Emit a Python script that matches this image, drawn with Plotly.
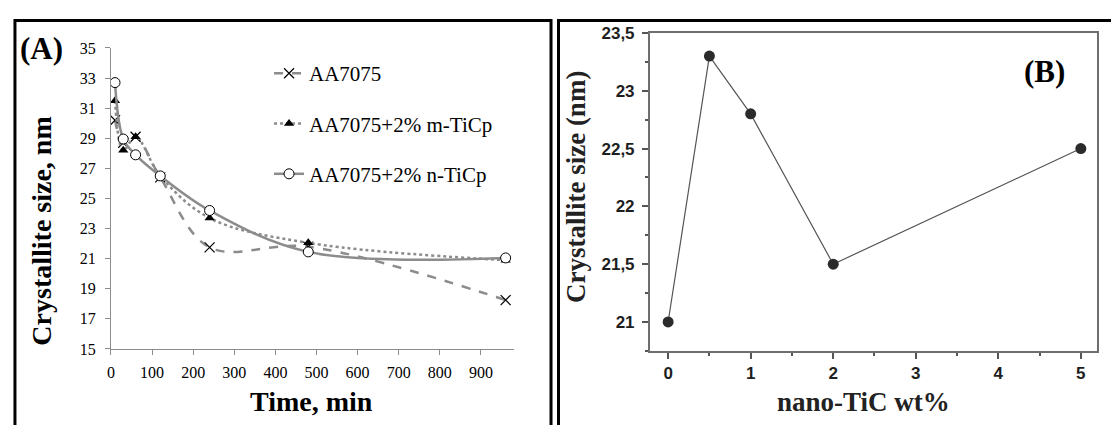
import plotly.graph_objects as go

# ---- Panel A data ----
time_min = [10, 30, 60, 120, 240, 480, 960]
aa7075 = [30.2, 28.7, 29.1, 26.4, 21.75, 21.8, 18.25]
aa_m_ticp = [31.5, 28.2, 29.1, 26.5, 23.7, 22.05, 20.9]
aa_n_ticp = [32.7, 28.95, 27.9, 26.5, 24.2, 21.45, 21.05]
series_names = ["AA7075", "AA7075+2% m-TiCp", "AA7075+2% n-TiCp"]
x_ticks_a = [0, 100, 200, 300, 400, 500, 600, 700, 800, 900]
y_ticks_a = [15, 17, 19, 21, 23, 25, 27, 29, 31, 33, 35]

# ---- Panel B data ----
tic_wt = [0, 0.5, 1, 2, 5]
cryst_b = [21.0, 23.3, 22.8, 21.5, 22.5]
y_ticks_b = [21, 21.5, 22, 22.5, 23, 23.5]
y_ticklabels_b = ["21", "21,5", "22", "22,5", "23", "23,5"]
x_ticks_b = [0, 1, 2, 3, 4, 5]

W, H = 1111, 425
def px(x):
    return x / W
def py(y):
    return 1 - y / H

SERIF = "Liberation Serif, Times New Roman, serif"
SANS = "Liberation Sans, Arial, sans-serif"
GRAY = "#8c8c8c"

fig = go.Figure()

styles = [
    dict(dash="dash", symbol="x-thin", msize=10, mcolor="black", mline=dict(color="black", width=1.2)),
    dict(dash="dot", symbol="triangle-up", msize=9, mcolor="black", mline=dict(color="black", width=0)),
    dict(dash="solid", symbol="circle", msize=10, mcolor="white", mline=dict(color="black", width=1)),
]
for i, (name, vals) in enumerate(zip(series_names, [aa7075, aa_m_ticp, aa_n_ticp])):
    s = styles[i]
    fig.add_trace(go.Scatter(
        x=time_min, y=vals, name=name, mode="lines+markers",
        line=dict(color=GRAY, width=2.5, dash=s["dash"], shape="spline", smoothing=1.0),
        marker=dict(symbol=s["symbol"], size=s["msize"], color=s["mcolor"], line=s["mline"]),
        xaxis="x", yaxis="y", legendgroup=f"g{i}",
    ))

fig.add_trace(go.Scatter(
    x=tic_wt, y=cryst_b, mode="lines+markers", showlegend=False,
    line=dict(color="#555555", width=1.2),
    marker=dict(symbol="circle", size=11, color="#2b2b2b"),
    xaxis="x2", yaxis="y2",
))

axis_a_common = dict(showgrid=False, zeroline=False, showline=True, linecolor=GRAY, linewidth=1,
                     ticks="outside", ticklen=5, tickcolor=GRAY,
                     tickfont=dict(family=SERIF, size=16, color="black"))
axis_b_common = dict(showgrid=False, zeroline=False, showline=True, mirror=True, linecolor="#6e6e6e",
                     linewidth=2, ticks="outside", ticklen=6, tickwidth=2, tickcolor="#555555",
                     tickfont=dict(family=SANS, size=17, color="#1e1e1e", weight="bold"))

title_a_font = dict(family=SERIF, size=28, color="black", weight="bold")
title_b_font = dict(family=SERIF, size=27, color="#222222", weight="bold")

fig.update_layout(
    width=W, height=H,
    margin=dict(l=0, r=0, t=0, b=0),
    paper_bgcolor="white", plot_bgcolor="white",
    showlegend=True,
    legend=dict(x=px(266), y=py(46), xanchor="left", yanchor="top",
                font=dict(family=SERIF, size=21, color="black"),
                tracegroupgap=20, bgcolor="rgba(0,0,0,0)", itemwidth=30),
    xaxis=dict(domain=[px(107.3), px(511.7)], range=[0, 980], anchor="y",
               tickvals=x_ticks_a, ticklabelstandoff=4, **axis_a_common),
    yaxis=dict(domain=[py(355), py(40.7)], range=[15, 35], anchor="x",
               tickvals=y_ticks_a, ticklabelstandoff=6, **axis_a_common),
    xaxis2=dict(domain=[px(648.3), px(1097.3)], range=[-0.22, 5.2], anchor="y2",
                tickvals=x_ticks_b, ticklabelstandoff=0, **axis_b_common,
                minor=dict(ticks="outside", ticklen=3, tickwidth=2, tickcolor="#555555", dtick=0.5, tick0=0)),
    yaxis2=dict(domain=[py(357), py(25)], range=[20.75, 23.5], anchor="x2",
                tickvals=y_ticks_b, ticktext=y_ticklabels_b, ticklabelstandoff=4, **axis_b_common,
                minor=dict(ticks="outside", ticklen=3, tickwidth=2, tickcolor="#555555", dtick=0.25, tick0=0)),
    shapes=[
        dict(type="rect", xref="paper", yref="paper", x0=px(11), x1=px(549), y0=-0.2, y1=py(12),
             line=dict(color="black", width=3)),
        dict(type="rect", xref="paper", yref="paper", x0=px(556.5), x1=1.2, y0=-0.2, y1=py(12),
             line=dict(color="black", width=3)),
    ],
    annotations=[
        dict(text="(A)", xref="paper", yref="paper", x=px(37.5), y=py(41), showarrow=False,
             font=dict(family=SERIF, size=31, color="black", weight="bold"), xanchor="center", yanchor="middle"),
        dict(text="(B)", xref="paper", yref="paper", x=px(1044), y=py(65), showarrow=False,
             font=dict(family=SERIF, size=31, color="black", weight="bold"), xanchor="center", yanchor="middle"),
        dict(text="Crystallite size, nm", xref="paper", yref="paper", x=px(37.6), y=py(232), showarrow=False,
             textangle=-90, font=title_a_font, xanchor="center", yanchor="middle"),
        dict(text="Time, min", xref="paper", yref="paper", x=px(309), y=py(410), showarrow=False,
             font=title_a_font, xanchor="center", yanchor="middle"),
        dict(text="Crystallite size (nm)", xref="paper", yref="paper", x=px(574), y=py(186), showarrow=False,
             textangle=-90, font=title_b_font, xanchor="center", yanchor="middle"),
        dict(text="nano-TiC wt%", xref="paper", yref="paper", x=px(863), y=py(410), showarrow=False,
             font=title_b_font, xanchor="center", yanchor="middle"),
    ],
)

fig.write_html("out.html", config={"displayModeBar": False},
               post_script="document.body.style.margin='0px';document.body.style.padding='0px';"
                           "document.body.style.overflow='hidden';")
